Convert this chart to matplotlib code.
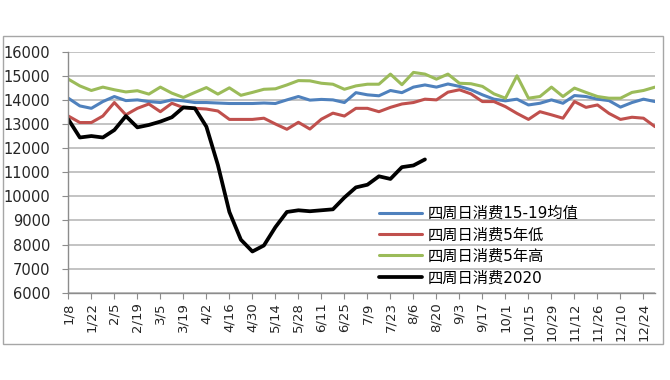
import matplotlib
matplotlib.use("Agg")
import matplotlib.pyplot as plt
import numpy as np
from matplotlib.patches import Rectangle

# weekly values, 1/8 .. 12/31
avg_15_19 = [14070, 13750, 13650, 13930, 14140, 13970, 14000, 13930, 13890, 14000,
             13960, 13890, 13890, 13870, 13850, 13850, 13850, 13870, 13850, 14000,
             14140, 13990, 14020, 14000, 13890, 14300, 14210, 14170, 14390, 14300,
             14530, 14620, 14530, 14660, 14560, 14420, 14210, 14030, 13960, 14030,
             13790, 13860, 14000, 13860, 14180, 14140, 14030, 13970, 13700, 13890,
             14030, 13930]
low_5y = [13330, 13060, 13060, 13330, 13890, 13380, 13650, 13830, 13510, 13860,
          13680, 13650, 13620, 13540, 13190, 13190, 13190, 13240, 13000, 12780,
          13070, 12790, 13200, 13450, 13330, 13650, 13650, 13510, 13690, 13830,
          13890, 14030, 14000, 14320, 14420, 14250, 13930, 13930, 13720, 13440,
          13190, 13510, 13380, 13240, 13930, 13690, 13790, 13440, 13190, 13280,
          13240, 12890]
high_5y = [14860, 14580, 14390, 14530, 14420, 14330, 14380, 14240, 14530, 14280,
           14100, 14310, 14510, 14240, 14500, 14190, 14310, 14440, 14460, 14620,
           14800, 14790, 14690, 14650, 14440, 14580, 14650, 14650, 15070, 14630,
           15140, 15070, 14860, 15070, 14690, 14670, 14560, 14250, 14070, 15000,
           14070, 14140, 14530, 14140, 14490, 14310, 14140, 14070, 14070, 14310,
           14390, 14530]
y2020 = [13190, 12440, 12500, 12440, 12750, 13330, 12860, 12960, 13100, 13280,
         13690, 13650, 12890, 11300, 9350, 8200, 7710, 7960, 8720, 9350,
         9420, 9380, 9420, 9460, 9950, 10370, 10480, 10830, 10720, 11210,
         11280, 11530]

tick_labels = ["1/8", "1/22", "2/5", "2/19", "3/5", "3/19", "4/2", "4/16", "4/30",
               "5/14", "5/28", "6/11", "6/25", "7/9", "7/23", "8/6", "8/20", "9/3",
               "9/17", "10/1", "10/15", "10/29", "11/12", "11/26", "12/10", "12/24"]

series_names = ["四周日消费15-19均值", "四周日消费5年低", "四周日消费5年高", "四周日消费2020"]
series_colors = ["#4f81bd", "#c0504d", "#9bbb59", "#000000"]

fonts = ["DejaVu Sans", "Noto Sans CJK SC"]
plt.rcParams["font.family"] = fonts

fig = plt.figure(figsize=(6.7, 3.8), dpi=100)
fig.patches.append(Rectangle((0.0045, 0.0947), 0.985, 0.8105, transform=fig.transFigure,
                             fill=False, edgecolor="#a6a6a6", linewidth=1.0))
ax = fig.add_axes([0.102, 0.2297, 0.8756, 0.6343])

for vals, name, col in zip([avg_15_19, low_5y, high_5y, y2020], series_names, series_colors):
    lw = 2.7 if col == "#000000" else 2.2
    ax.plot(np.arange(len(vals)), vals, color=col, linewidth=lw, label=name,
            solid_joinstyle="round", solid_capstyle="round")

ax.set_xlim(0, len(avg_15_19) - 1)
ax.set_ylim(6000, 16000)
ax.set_yticks(np.arange(6000, 16001, 1000))
ax.set_xticks(np.arange(0, 2 * len(tick_labels), 2))
ax.set_xticklabels(tick_labels, rotation=90)
ax.grid(axis="y", color="#b3b3b3", linewidth=1.1)
ax.set_axisbelow(True)

for s in ["top", "right"]:
    ax.spines[s].set_visible(False)
for s in ["left", "bottom"]:
    ax.spines[s].set_color("#8c8c8c")
    ax.spines[s].set_linewidth(1.0)
ax.tick_params(axis="y", direction="out", length=4, color="#8c8c8c", pad=9,
               labelsize=10.5, labelcolor="#262626")
ax.tick_params(axis="x", direction="out", length=4, color="#8c8c8c", pad=3,
               labelsize=9.5, labelcolor="#262626")

ax.legend(loc="upper left", bbox_to_anchor=(379 / 670, 1 - 206 / 380),
          bbox_transform=fig.transFigure, frameon=False, fontsize=11,
          handlelength=2.8, handletextpad=0.4, labelspacing=0.42,
          borderpad=0, borderaxespad=0)

fig.savefig("out.png", dpi=100)
